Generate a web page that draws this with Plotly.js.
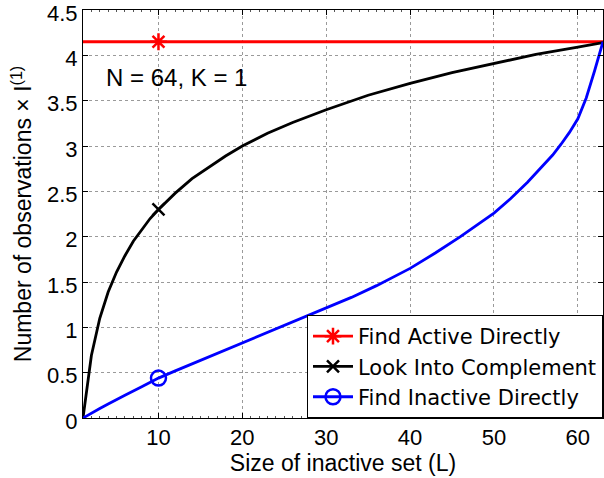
<!DOCTYPE html>
<html>
<head>
<meta charset="utf-8">
<script src="https://cdn.plot.ly/plotly-3.0.1.min.js"></script>
<style>
  html, body { margin: 0; padding: 0; background: #fff; }
  #chart { width: 604px; height: 478px; }
</style>
</head>
<body>
<div id="chart"></div>
<script>
// ---- data ----
const seriesNames = ["Find Active Directly", "Look Into Complement", "Find Inactive Directly"];

const xActive = [1, 63];
const yActive = [4.15, 4.15];

const xComplement = [1, 2, 3, 4, 5, 6, 7, 8, 9, 10, 12, 14, 16, 18, 20, 23, 26, 30, 35, 40, 45, 50, 55, 60, 63];
const yComplement = [0, 0.69, 1.10, 1.39, 1.61, 1.79, 1.95, 2.08, 2.20, 2.30, 2.48, 2.64, 2.77, 2.89, 3.00, 3.14, 3.26, 3.40, 3.56, 3.69, 3.81, 3.91, 4.01, 4.09, 4.14];

const xInactive = [1, 2, 3, 4, 5, 6, 8, 10, 12, 15, 18, 20, 23, 26, 30, 33, 36, 40, 43, 46, 50, 52, 54, 56, 57, 58, 59, 60, 61, 62, 63];
const yInactive = [0, 0.055, 0.105, 0.155, 0.205, 0.25, 0.345, 0.44, 0.52, 0.635, 0.75, 0.83, 0.94, 1.055, 1.21, 1.33, 1.46, 1.65, 1.82, 2.0, 2.26, 2.42, 2.6, 2.8, 2.9, 3.02, 3.15, 3.3, 3.53, 3.83, 4.15];

const markerL = 10;
const markerActiveY = 4.15;

const xTicks = [10, 20, 30, 40, 50, 60];
const yTicks = [0, 0.5, 1, 1.5, 2, 2.5, 3, 3.5, 4, 4.5];
const yTickText = ["0", "0.5", "1", "1.5", "2", "2.5", "3", "3.5", "4", "4.5"];

// ---- styling ----
const FONT = "Liberation Sans, Arial, Helvetica, sans-serif";
const LEGFONT = "DejaVu Sans, Liberation Sans, sans-serif";
const colors = ["#ff0000", "#000000", "#0000ff"];
const symbols = ["asterisk-open", "x-thin-open", "circle-open"];
const msizes = [14, 12, 15];
const LW = 2.8;

function valueAt(xs, ys, x) {
  const i = xs.indexOf(x);
  return i >= 0 ? ys[i] : null;
}

const lineData = [
  [xActive, yActive],
  [xComplement, yComplement],
  [xInactive, yInactive]
];
const markerY = [
  markerActiveY,
  valueAt(xComplement, yComplement, markerL),
  valueAt(xInactive, yInactive, markerL)
];

const traces = [];
for (let k = 0; k < 3; k++) {
  traces.push({
    x: lineData[k][0], y: lineData[k][1],
    type: "scatter", mode: "lines",
    line: { color: colors[k], width: LW },
    showlegend: false, hoverinfo: "skip"
  });
}
for (let k = 0; k < 3; k++) {
  traces.push({
    x: [markerL], y: [markerY[k]],
    type: "scatter", mode: "lines+markers",
    name: seriesNames[k],
    line: { color: colors[k], width: LW },
    marker: { symbol: symbols[k], size: msizes[k], color: colors[k],
              line: { color: colors[k], width: 2.5 } },
    showlegend: true
  });
}

const layout = {
  width: 604, height: 478,
  paper_bgcolor: "#ffffff", plot_bgcolor: "#ffffff",
  margin: { l: 83, r: 1, t: 10, b: 60 },
  font: { family: FONT, size: 21, color: "#000" },
  showlegend: true,
  legend: {
    x: 1, xanchor: "right", y: 0, yanchor: "bottom",
    bgcolor: "#ffffff", bordercolor: "#000000", borderwidth: 1,
    font: { family: LEGFONT, size: 21, color: "#000" },
    itemwidth: 40, tracegroupgap: 0,
    traceorder: "normal"
  },
  xaxis: {
    range: [1, 63],
    tickvals: xTicks,
    ticks: "inside", ticklen: 5, tickcolor: "#000", tickwidth: 1,
    showline: true, linecolor: "#000", linewidth: 1, mirror: "ticks",
    showgrid: true, gridcolor: "#9a9a9a", griddash: "dot", gridwidth: 1,
    zeroline: false, ticklabeloverflow: "allow",
    tickfont: { family: FONT, size: 22, color: "#000" },
    minor: { dtick: 1, tick0: 0, ticks: "inside", ticklen: 2, tickcolor: "#555", showgrid: false },
    title: { text: "Size of inactive set (L)", font: { family: FONT, size: 23, color: "#000" }, standoff: 3 }
  },
  yaxis: {
    range: [0, 4.5],
    tickvals: yTicks, ticktext: yTickText,
    ticks: "inside", ticklen: 5, tickcolor: "#000", tickwidth: 1,
    showline: true, linecolor: "#000", linewidth: 1, mirror: "ticks",
    showgrid: true, gridcolor: "#9a9a9a", griddash: "dot", gridwidth: 1,
    zeroline: false, ticklabeloverflow: "allow", ticklabelshift: 3,
    tickfont: { family: FONT, size: 22, color: "#000" },
    title: { text: "Number of observations × I<sup>(1)</sup>", font: { family: FONT, size: 23, color: "#000" }, standoff: 8 }
  },
  annotations: [{
    xref: "x", yref: "y", x: 3.5, y: 3.76,
    xanchor: "left", yanchor: "middle",
    text: "N = 64, K = 1", showarrow: false,
    font: { family: FONT, size: 24, color: "#000" }
  }]
};

Plotly.newPlot("chart", traces, layout, { displayModeBar: false, staticPlot: true });
</script>
</body>
</html>
